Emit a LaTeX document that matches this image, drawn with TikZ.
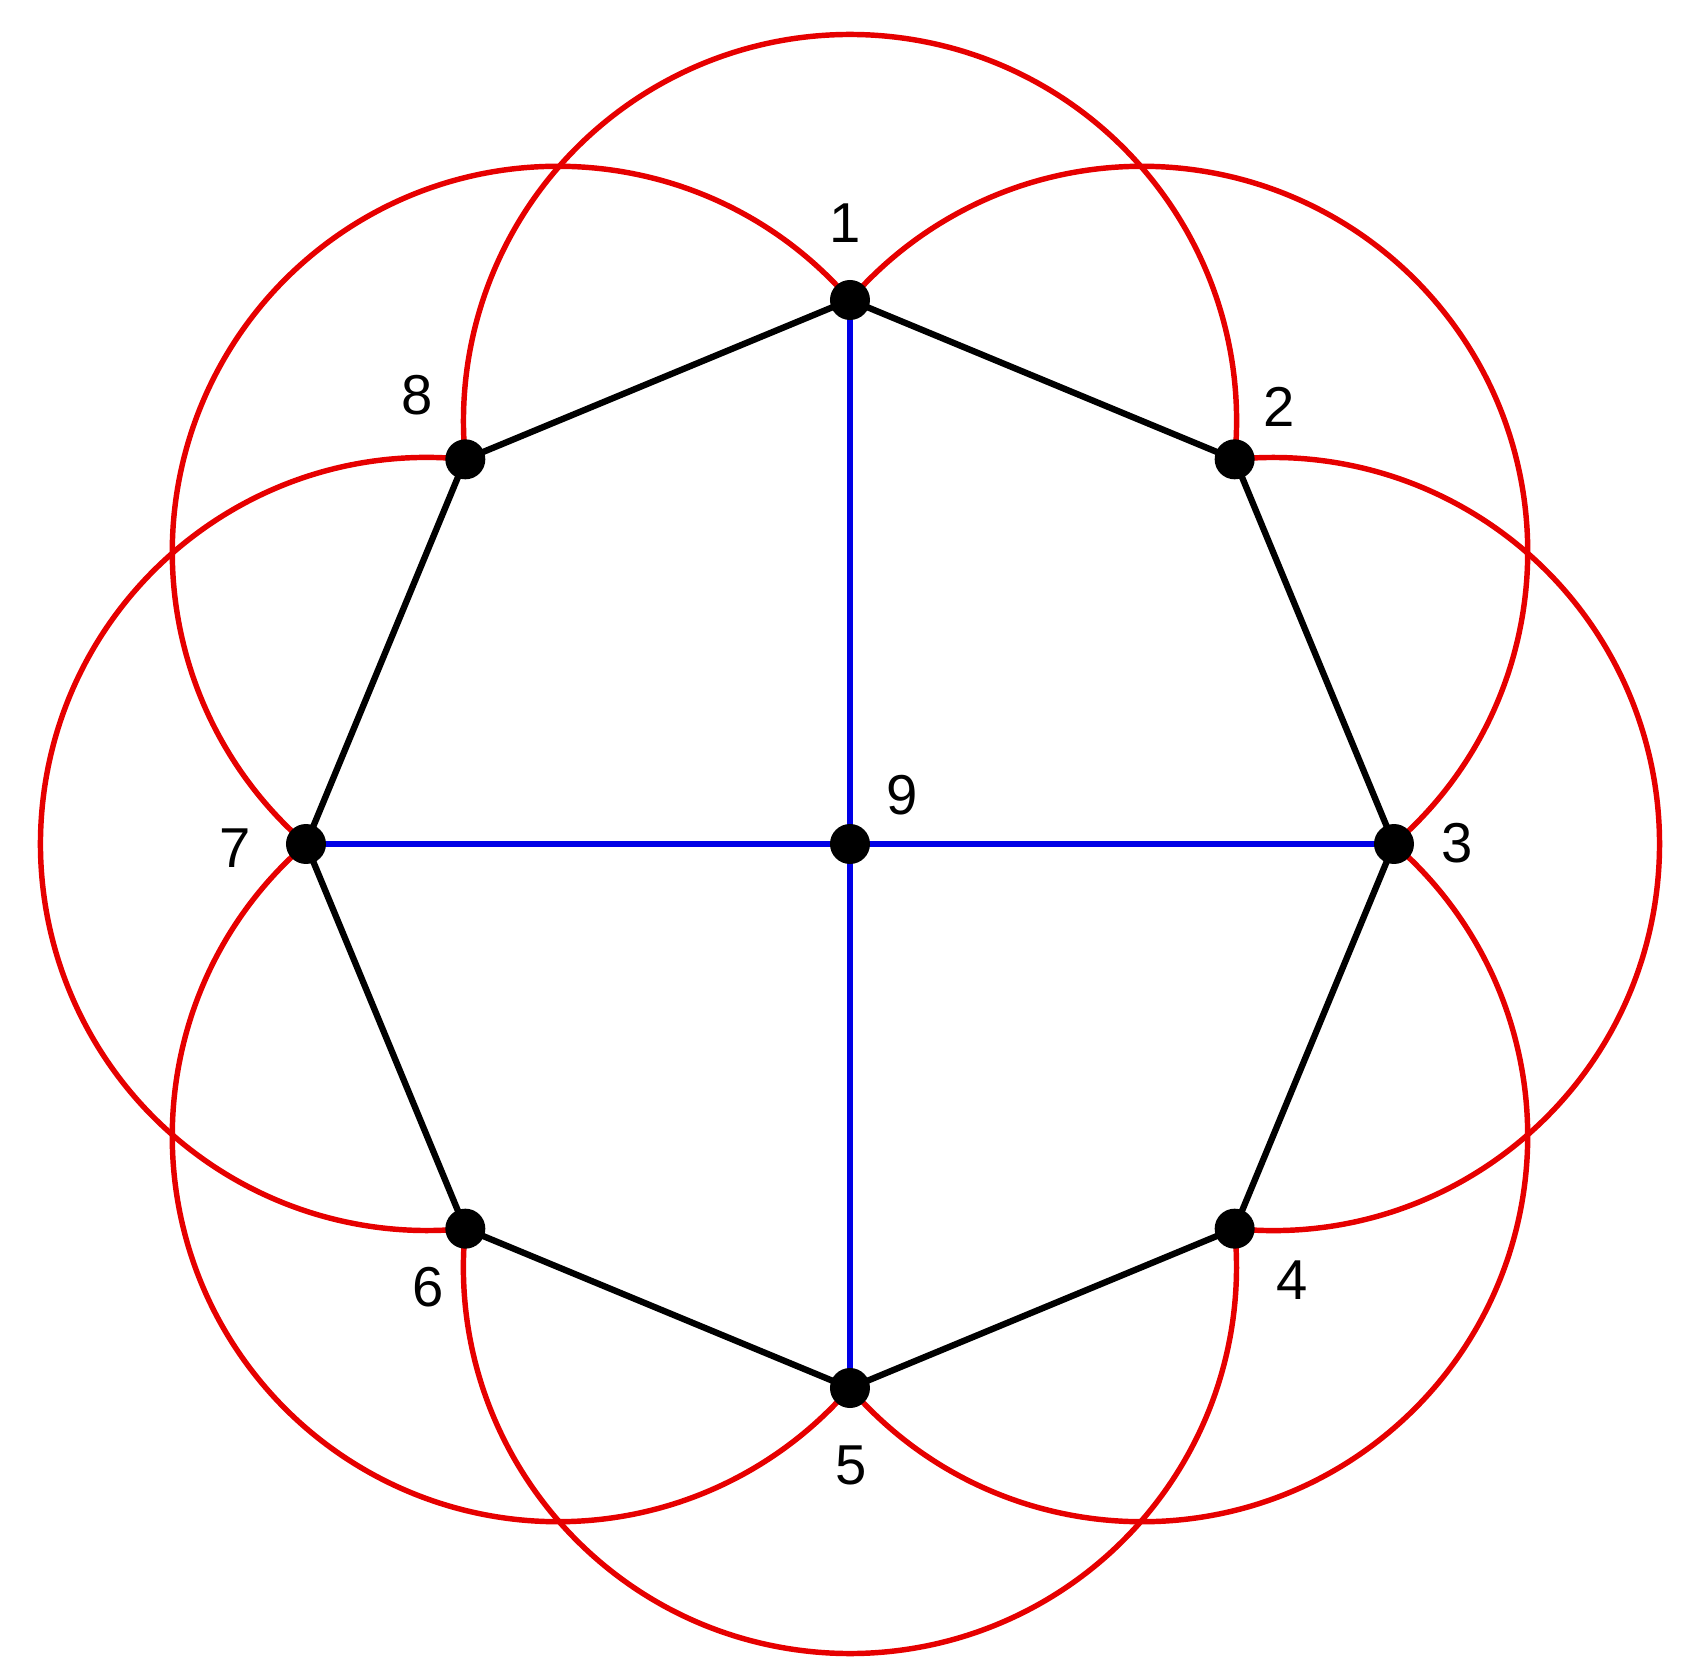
\documentclass[tikz,border=0pt]{standalone}
\usepackage{fontspec}
\setmainfont{Liberation Sans}
\begin{document}
\begin{tikzpicture}[
  dot/.style={circle,fill=black,inner sep=0pt,minimum size=0.40cm},
  lab/.style={font=\fontsize{16}{16}\selectfont,inner sep=0pt},
  redarc/.style={draw={rgb,255:red,230;green,0;blue,0},line width=1.55pt},
  edge/.style={draw=black,line width=1.8pt},
  spoke/.style={draw={rgb,255:red,0;green,0;blue,230},line width=1.5pt}
]
\useasboundingbox (-8.50,-8.24) rectangle (8.38,8.44);
% vertex coordinates
\foreach \k in {1,...,8}{
  \pgfmathsetmacro{\ang}{90-45*(\k-1)}
  \coordinate (v\k) at (\ang:5.44);
}
\coordinate (v9) at (0,0);
% red arcs: axis circles (through vertices at theta-45 and theta+45)
\draw[redarc] (v2) arc[start angle=-5.69, end angle=185.69, radius=3.8657];   % top, 2 -> 8
\draw[redarc] (v8) arc[start angle=84.31, end angle=275.69, radius=3.8657];   % left, 8 -> 6
\draw[redarc] (v6) arc[start angle=174.31, end angle=365.69, radius=3.8657];  % bottom, 6 -> 4
\draw[redarc] (v4) arc[start angle=264.31, end angle=455.69, radius=3.8657];  % right, 4 -> 2
% red arcs: diagonal circles
\draw[redarc] (v1) arc[start angle=40.79, end angle=229.21, radius=3.8571];   % top-left, 1 -> 7
\draw[redarc] (v7) arc[start angle=130.79, end angle=319.21, radius=3.8571];  % bottom-left, 7 -> 5
\draw[redarc] (v5) arc[start angle=220.79, end angle=409.21, radius=3.8571];  % bottom-right, 5 -> 3
\draw[redarc] (v3) arc[start angle=310.79, end angle=499.21, radius=3.8571];  % top-right, 3 -> 1
% octagon edges
\draw[edge] (v1) -- (v2) -- (v3) -- (v4) -- (v5) -- (v6) -- (v7) -- (v8) -- cycle;
% blue spokes
\draw[spoke] (v1) -- (v5);
\draw[spoke] (v7) -- (v3);
% dots
\foreach \k in {1,...,9}{
  \node[dot] (n\k) at (v\k) {};
}
% labels
\node[lab] (l1) at (-0.05,6.21) {1};
\node[lab] (l2) at (4.29,4.37) {2};
\node[lab] (l3) at (6.07,0.01) {3};
\node[lab] (l4) at (4.42,-4.36) {4};
\node[lab] (l5) at (0.01,-6.21) {5};
\node[lab] (l6) at (-4.22,-4.43) {6};
\node[lab] (l7) at (-6.15,-0.04) {7};
\node[lab] (l8) at (-4.33,4.49) {8};
\node[lab] (l9) at (0.52,0.49) {9};
\end{tikzpicture}
\end{document}
